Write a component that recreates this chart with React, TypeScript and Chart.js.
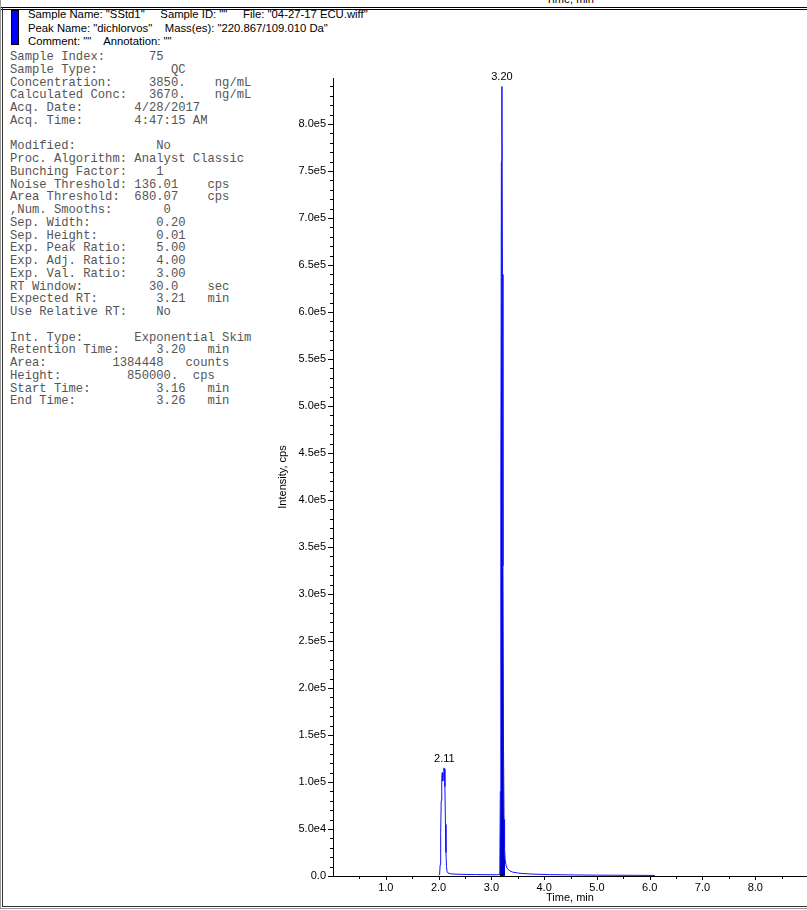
import { useEffect, useRef } from 'react';
import { Chart, registerables } from 'chart.js';

Chart.register(...registerables);

// ---- chromatogram trace (time in min, intensity in cps) ----
const timeMin = [
  2.0, 2.02, 2.03, 2.04, 2.05, 2.06, 2.07, 2.08, 2.09, 2.1, 2.11, 2.12, 2.13, 2.14, 2.15, 2.16, 2.18, 2.2,
  2.25, 2.35, 2.5, 2.7, 2.9, 3.1, 3.15,
  3.16, 3.17, 3.18, 3.19, 3.2, 3.21, 3.22, 3.23, 3.24, 3.25, 3.26,
  3.28, 3.3, 3.35, 3.4, 3.5, 3.6, 3.75, 3.9, 4.1, 4.3, 4.6, 5.0, 5.4, 5.8, 6.1,
];
const intensityCps = [
  500, 1500, 12000, 45000, 80000, 104000, 110000, 101000, 108000, 115000, 114000, 95000, 55000, 25000, 10000, 5000, 3200, 2700,
  2200, 1900, 1700, 1500, 1400, 1300, 1500,
  5000, 90000, 420000, 760000, 840000, 640000, 330000, 140000, 60000, 30000, 18000,
  11000, 8000, 5500, 4200, 3200, 2600, 2100, 1800, 1500, 1300, 1100, 900, 800, 700, 600,
];

// integrated area of the main peak
const areaStartMin = 3.16;
const areaEndMin = 3.26;
const integrationBaseTimes = [3.16, 3.26];
const integrationBaseValues = [1500, 2500];

// apex annotations
const peakLabelTimes = [2.11, 3.2];
const peakLabelTexts = ['2.11', '3.20'];

// axes
const xMin = 0;
const xMax = 8.98;
const xTickValues = [1, 2, 3, 4, 5, 6, 7, 8];
const xTickLabels = ['1.0', '2.0', '3.0', '4.0', '5.0', '6.0', '7.0', '8.0'];
const xMinorStep = 0.5;
const yMin = 0;
const yMax = 849000;
const yTickValues = [
  0, 50000, 100000, 150000, 200000, 250000, 300000, 350000, 400000,
  450000, 500000, 550000, 600000, 650000, 700000, 750000, 800000,
];
const yTickLabels = [
  '0.0', '5.0e4', '1.0e5', '1.5e5', '2.0e5', '2.5e5', '3.0e5', '3.5e5', '4.0e5',
  '4.5e5', '5.0e5', '5.5e5', '6.0e5', '6.5e5', '7.0e5', '7.5e5', '8.0e5',
];
const yMinorStep = 10000;
const xTitle = 'Time, min';
const yTitle = 'Intensity, cps';

// header + info panel texts
const headerLines = [
  'Sample Name: "SStd1"     Sample ID: ""     File: "04-27-17 ECU.wiff"',
  'Peak Name: "dichlorvos"    Mass(es): "220.867/109.010 Da"',
  'Comment: ""    Annotation: ""',
];
const infoLines = [
  'Sample Index:      75',
  'Sample Type:          QC',
  'Concentration:     3850.    ng/mL',
  'Calculated Conc:   3670.    ng/mL',
  'Acq. Date:       4/28/2017',
  'Acq. Time:       4:47:15 AM',
  '',
  'Modified:           No',
  'Proc. Algorithm: Analyst Classic',
  'Bunching Factor:    1',
  'Noise Threshold: 136.01    cps',
  'Area Threshold:  680.07    cps',
  ',Num. Smooths:       0',
  'Sep. Width:         0.20',
  'Sep. Height:        0.01',
  'Exp. Peak Ratio:    5.00',
  'Exp. Adj. Ratio:    4.00',
  'Exp. Val. Ratio:    3.00',
  'RT Window:         30.0    sec',
  'Expected RT:        3.21   min',
  'Use Relative RT:    No',
  '',
  'Int. Type:       Exponential Skim',
  'Retention Time:     3.20   min',
  'Area:         1384448   counts',
  'Height:         850000.  cps',
  'Start Time:         3.16   min',
  'End Time:           3.26   min',
];

const SANS = '"Liberation Sans", Arial, Helvetica, sans-serif';
const MONO = '"Liberation Mono", "Courier New", monospace';

const decorPlugin = {
  id: 'decor',
  afterDraw(chart: any) {
    const { ctx, chartArea } = chart;
    const x = chart.scales.x;
    const y = chart.scales.y;
    ctx.save();
    ctx.strokeStyle = '#000';
    ctx.lineWidth = 1;
    ctx.beginPath();
    // minor + major tick marks on y
    const nY = Math.floor((yMax - yMin) / yMinorStep + 1e-9);
    for (let i = 0; i <= nY; i++) {
      const v = yMin + i * yMinorStep;
      const py = Math.round(y.getPixelForValue(v)) + 0.5;
      const len = yTickValues.indexOf(v) >= 0 ? 5 : 3;
      ctx.moveTo(chartArea.left - len, py);
      ctx.lineTo(chartArea.left, py);
    }
    // minor + major tick marks on x
    const nX = Math.floor((xMax - xMin) / xMinorStep + 1e-9);
    for (let i = 1; i <= nX; i++) {
      const v = xMin + i * xMinorStep;
      const px = Math.round(x.getPixelForValue(v)) + 0.5;
      const len = xTickValues.indexOf(v) >= 0 ? 4 : 3;
      ctx.moveTo(px, chartArea.bottom);
      ctx.lineTo(px, chartArea.bottom + len);
    }
    ctx.stroke();

    ctx.fillStyle = '#000';
    ctx.font = '11px ' + SANS;
    // x title
    ctx.textAlign = 'center';
    ctx.textBaseline = 'middle';
    ctx.fillText(xTitle, (chartArea.left + chartArea.right) / 2, chartArea.bottom + 22);
    // y title
    ctx.save();
    ctx.translate(chartArea.left - 50, (chartArea.top + chartArea.bottom) / 2);
    ctx.rotate(-Math.PI / 2);
    ctx.fillText(yTitle, 0, 0);
    ctx.restore();
    // apex labels
    ctx.textBaseline = 'alphabetic';
    peakLabelTimes.forEach((t, k) => {
      let best = -1;
      timeMin.forEach((tt, i) => {
        if (Math.abs(tt - t) < 0.025 && (best < 0 || intensityCps[i] > intensityCps[best])) best = i;
      });
      if (best < 0) return;
      const px = x.getPixelForValue(t);
      const py = y.getPixelForValue(intensityCps[best]);
      ctx.fillText(peakLabelTexts[k], px, py - 6);
    });
    ctx.restore();
  },
};

function ChromatogramChart() {
  const ref = useRef<HTMLCanvasElement | null>(null);
  useEffect(() => {
    if (!ref.current) return;
    const trace = timeMin.map((t, i) => ({ x: t, y: intensityCps[i] }));
    const area = trace.filter((p) => p.x >= areaStartMin - 1e-9 && p.x <= areaEndMin + 1e-9);
    const base = integrationBaseTimes.map((t, i) => ({ x: t, y: integrationBaseValues[i] }));
    const chart = new Chart(ref.current, {
      type: 'line',
      data: {
        datasets: [
          {
            data: area,
            borderWidth: 0,
            borderColor: '#0000c8',
            backgroundColor: '#0000c8',
            fill: 'origin',
            pointRadius: 0,
            order: 3,
          } as any,
          {
            data: trace,
            borderColor: '#1010ff',
            borderWidth: 1,
            fill: false,
            pointRadius: 0,
            tension: 0,
            order: 2,
          },
          {
            data: base,
            borderColor: '#000000',
            borderWidth: 1,
            fill: false,
            pointRadius: 0,
            order: 1,
          },
        ],
      },
      options: {
        animation: false,
        responsive: false,
        maintainAspectRatio: false,
        layout: { padding: { top: 18, right: 0, bottom: 0, left: 0 } },
        plugins: { legend: { display: false }, tooltip: { enabled: false } },
        events: [],
        scales: {
          x: {
            type: 'linear',
            min: xMin,
            max: xMax,
            grid: { display: false, drawTicks: false },
            border: { display: true, color: '#000', width: 1 },
            afterBuildTicks: (s: any) => {
              s.ticks = xTickValues.map((value) => ({ value }));
            },
            ticks: {
              padding: 5,
              maxRotation: 0,
              autoSkip: false,
              color: '#000',
              font: { family: SANS, size: 11 },
              callback: (_v: any, i: number) => xTickLabels[i] ?? '',
            },
            afterFit: (s: any) => {
              s.height = 34;
            },
          },
          y: {
            type: 'linear',
            min: yMin,
            max: yMax,
            grid: { display: false, drawTicks: false },
            border: { display: true, color: '#000', width: 1 },
            afterBuildTicks: (s: any) => {
              s.ticks = yTickValues.map((value) => ({ value }));
            },
            ticks: {
              padding: 7,
              autoSkip: false,
              color: '#000',
              font: { family: SANS, size: 11 },
              callback: (_v: any, i: number) => yTickLabels[i] ?? '',
            },
            afterFit: (s: any) => {
              s.width = 83;
            },
          },
        },
      },
      plugins: [decorPlugin],
    });
    return () => chart.destroy();
  }, []);
  return (
    <canvas
      ref={ref}
      width={557}
      height={850}
      style={{ position: 'absolute', left: 250, top: 60, width: 557, height: 850 }}
    />
  );
}

export default function App() {
  return (
    <div
      style={{
        position: 'absolute',
        left: 0,
        top: 0,
        width: 807,
        height: 910,
        overflow: 'hidden',
        background: '#fff',
      }}
    >
      {/* cut-off title of the panel above */}
      <div
        style={{
          position: 'absolute',
          left: 520,
          width: 100,
          top: -6,
          textAlign: 'center',
          font: '11px ' + SANS,
          lineHeight: '11px',
          color: '#000',
          whiteSpace: 'pre',
        }}
      >
        {xTitle}
      </div>
      {/* frame lines */}
      <div style={{ position: 'absolute', left: 0, top: 7, width: 807, height: 1, background: '#000' }} />
      <div style={{ position: 'absolute', left: 0, top: 9, width: 807, height: 1, background: '#000' }} />
      <div style={{ position: 'absolute', left: 0, top: 0, width: 1, height: 909, background: '#999' }} />
      <div style={{ position: 'absolute', left: 2, top: 7, width: 1, height: 900, background: '#333' }} />
      <div style={{ position: 'absolute', left: 2, top: 906, width: 805, height: 1, background: '#333' }} />
      <div style={{ position: 'absolute', left: 0, top: 908, width: 807, height: 1, background: '#999' }} />
      {/* colour swatch */}
      <div
        style={{
          position: 'absolute',
          left: 11,
          top: 10,
          width: 6,
          height: 33,
          background: '#0000ff',
          border: '1px solid #000',
        }}
      />
      {/* header */}
      <div
        style={{
          position: 'absolute',
          left: 28,
          top: 8,
          font: '11.3px ' + SANS,
          lineHeight: '13.5px',
          color: '#000',
          whiteSpace: 'pre',
        }}
      >
        {headerLines.map((l, i) => (
          <div key={i}>{l}</div>
        ))}
      </div>
      {/* info panel */}
      <div
        style={{
          position: 'absolute',
          left: 10,
          top: 51,
          font: '12.2px ' + MONO,
          lineHeight: '12.75px',
          color: '#555',
          whiteSpace: 'pre',
        }}
      >
        {infoLines.map((l, i) => (
          <div key={i} style={{ height: '12.75px' }}>
            {l}
          </div>
        ))}
      </div>
      <ChromatogramChart />
    </div>
  );
}
